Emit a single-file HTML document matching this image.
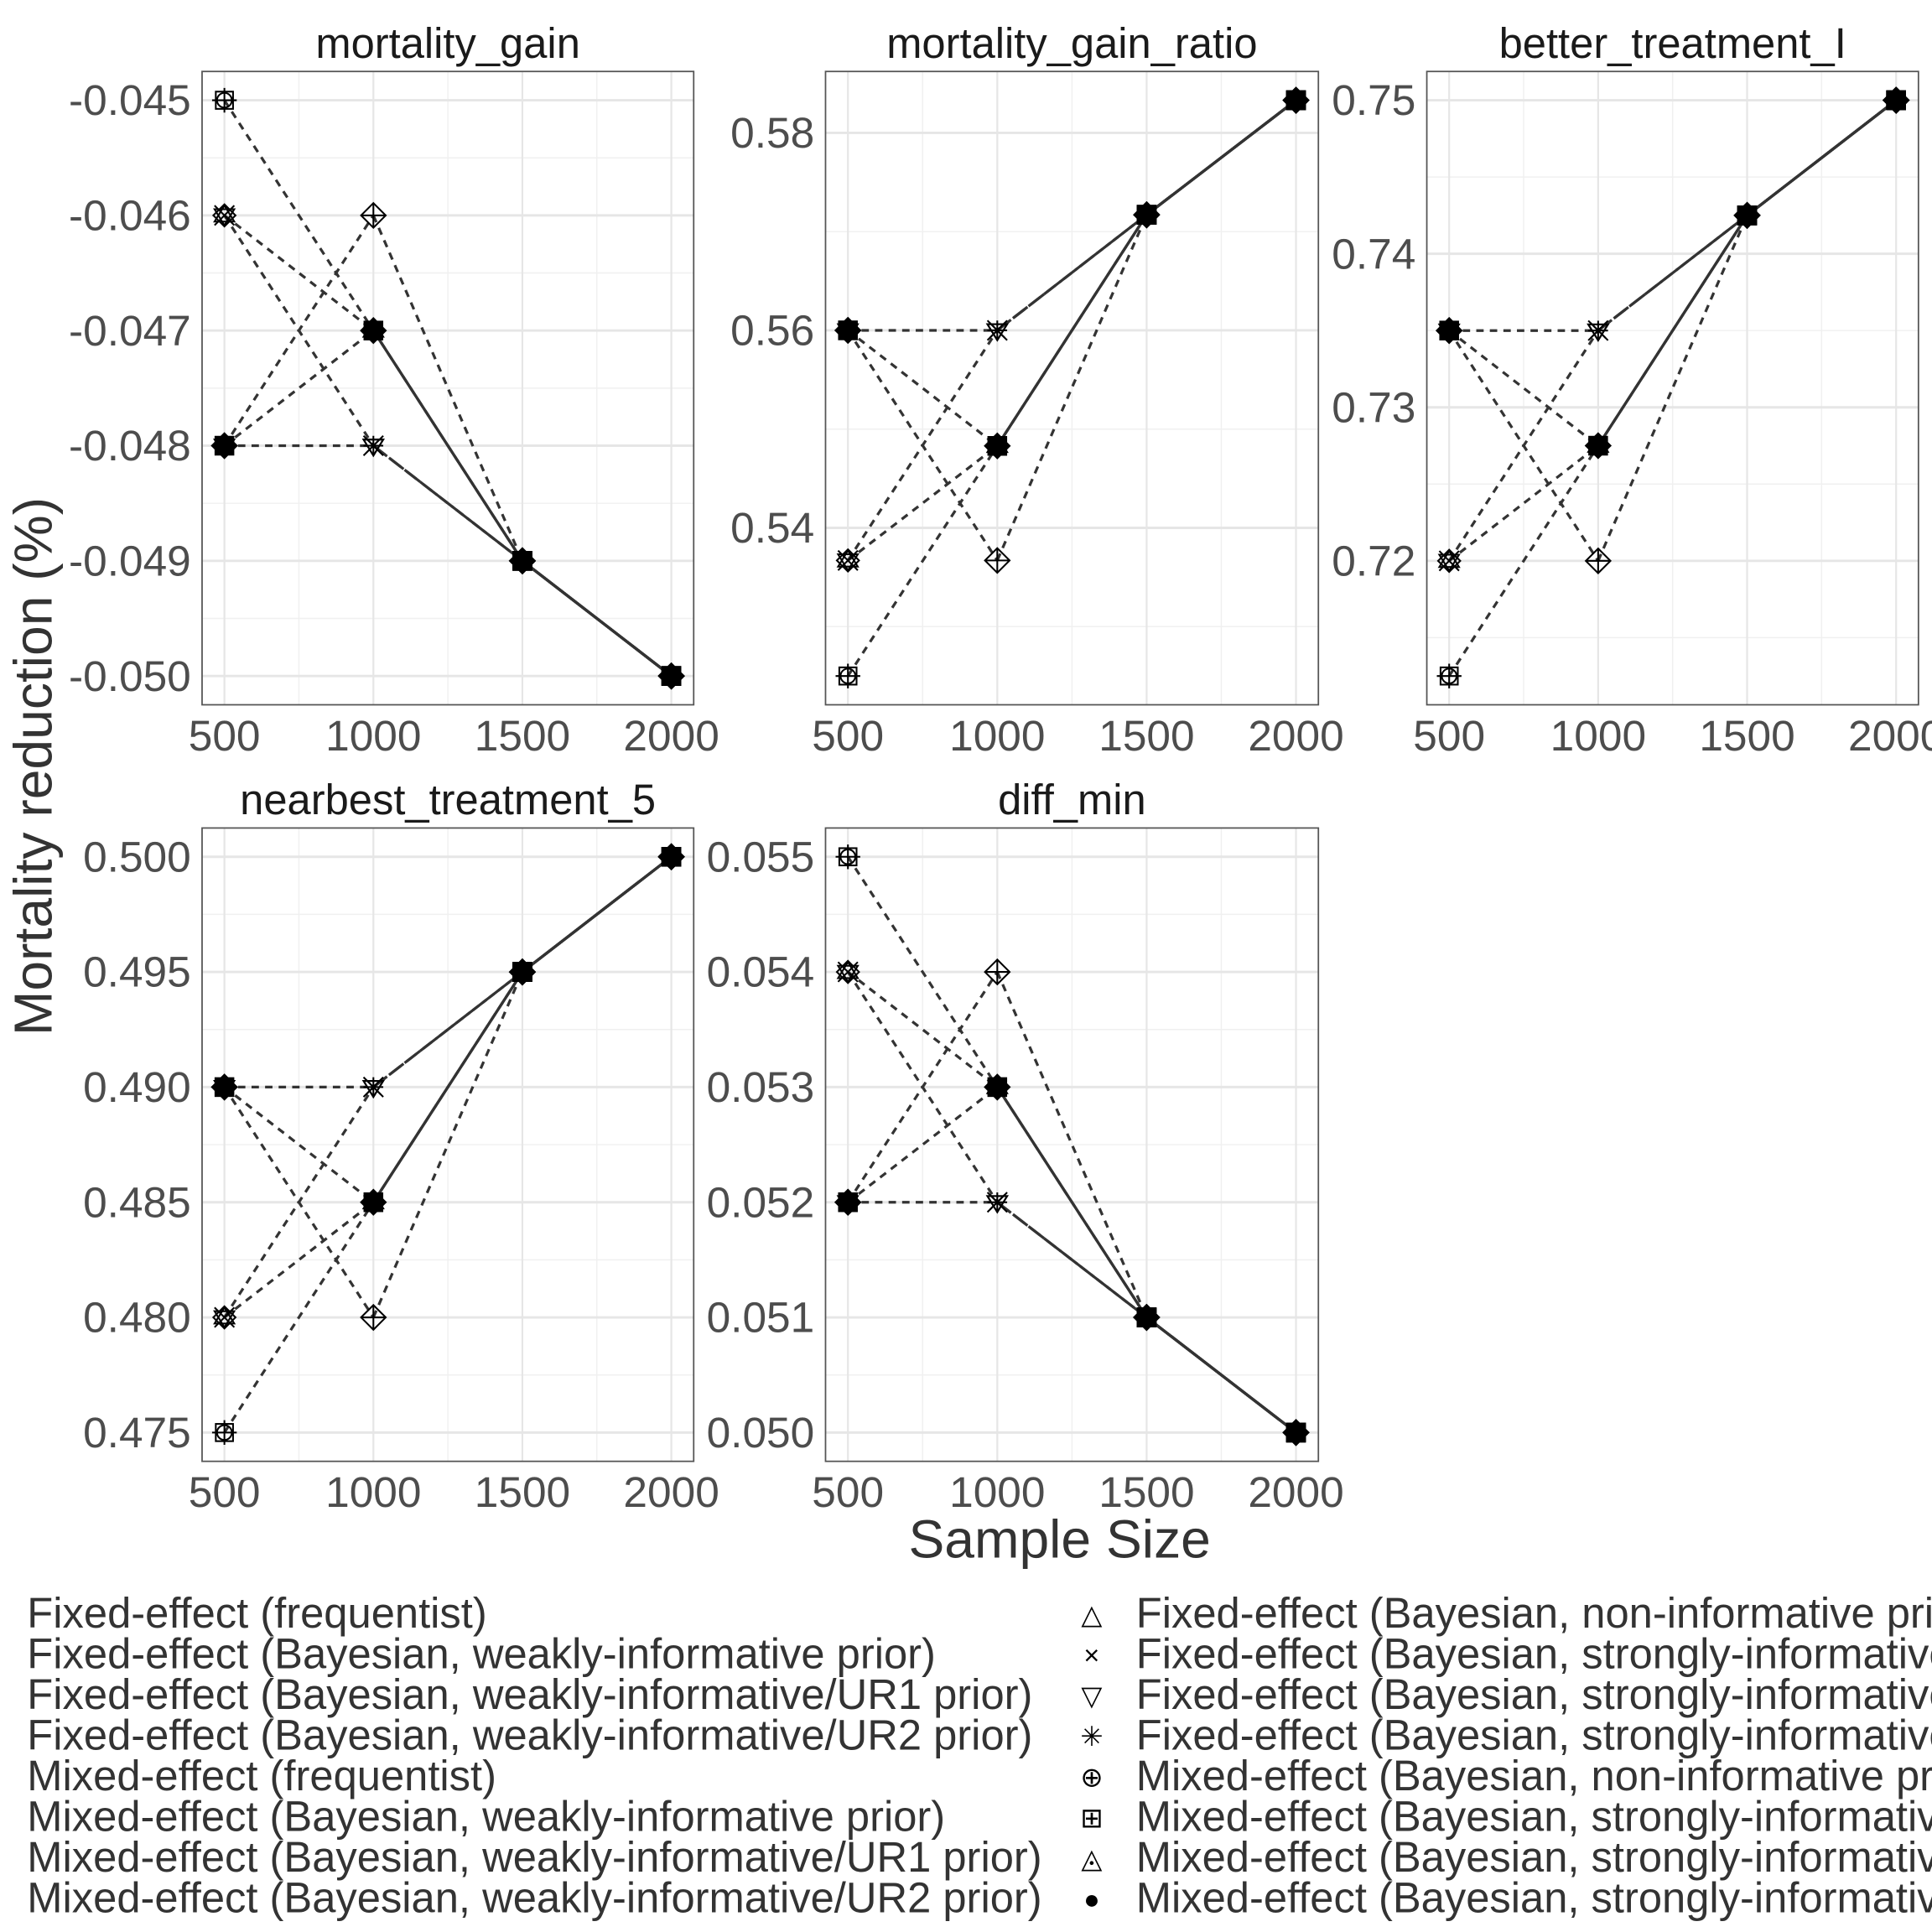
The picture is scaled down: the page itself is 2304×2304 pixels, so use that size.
<!DOCTYPE html>
<html><head><meta charset="utf-8"><style>
html,body{margin:0;padding:0;background:#fff}
svg{display:block}
text{font-family:"Liberation Sans",sans-serif}
</style></head><body>
<svg id="chart" width="2304" height="2304" viewBox="0 0 1568 1568" xmlns="http://www.w3.org/2000/svg">
<text x="0" y="0" transform="translate(42,622) rotate(-90)" font-size="43.7" fill="#333" text-anchor="middle">Mortality reduction (%)</text>
<text x="860" y="1264" font-size="43.7" fill="#333" text-anchor="middle">Sample Size</text>
<g id="legend"></g>
</svg>
<script>
const NS="http://www.w3.org/2000/svg";
const svg=document.getElementById('chart');
const xCats=[500,1000,1500,2000];
const xTicks=[500,1000,1500,2000];
const panelTitles=["mortality_gain","mortality_gain_ratio","better_treatment_I","nearbest_treatment_5","diff_min"];
const yTicks1=[-0.045,-0.046,-0.047,-0.048,-0.049,-0.050];
const yTicks2=[0.54,0.56,0.58];
const yTicks3=[0.72,0.73,0.74,0.75];
const yTicks4=[0.475,0.480,0.485,0.490,0.495,0.500];
const yTicks5=[0.050,0.051,0.052,0.053,0.054,0.055];
const yTickLabels1=["-0.045","-0.046","-0.047","-0.048","-0.049","-0.050"];
const yTickLabels2=["0.54","0.56","0.58"];
const yTickLabels3=["0.72","0.73","0.74","0.75"];
const yTickLabels4=["0.475","0.480","0.485","0.490","0.495","0.500"];
const yTickLabels5=["0.050","0.051","0.052","0.053","0.054","0.055"];
const p1=[[-0.045,-0.047,-0.049,-0.050],[-0.048,-0.046,-0.049,-0.050],[-0.046,-0.048,-0.049,-0.050],[-0.048,-0.047,-0.049,-0.050],[-0.046,-0.047,-0.049,-0.050],[-0.048,-0.048,-0.049,-0.050]];
const p2=[[0.525,0.5483,0.5717,0.5833],[0.56,0.5367,0.5717,0.5833],[0.5367,0.56,0.5717,0.5833],[0.56,0.5483,0.5717,0.5833],[0.5367,0.5483,0.5717,0.5833],[0.56,0.56,0.5717,0.5833]];
const p3=[[0.7125,0.7275,0.7425,0.75],[0.735,0.72,0.7425,0.75],[0.72,0.735,0.7425,0.75],[0.735,0.7275,0.7425,0.75],[0.72,0.7275,0.7425,0.75],[0.735,0.735,0.7425,0.75]];
const p4=[[0.475,0.485,0.495,0.500],[0.490,0.480,0.495,0.500],[0.480,0.490,0.495,0.500],[0.490,0.485,0.495,0.500],[0.480,0.485,0.495,0.500],[0.490,0.490,0.495,0.500]];
const p5=[[0.055,0.053,0.051,0.050],[0.052,0.054,0.051,0.050],[0.054,0.052,0.051,0.050],[0.052,0.053,0.051,0.050],[0.054,0.053,0.051,0.050],[0.052,0.052,0.051,0.050]];
const seriesMarkers=["squareplus","diamondplus","trix","filled","triup","tridown"];
const seriesDash=[["6,5","6,5","none"],["6,5","6,5","none"],["6,5","12,4","none"],["6,5","none","none"],["6,5","none","none"],["6,5","14,3","none"]];
const panels=[
 {x0:164,x1:563,y0:58,y1:572,data:p1,ticks:yTicks1,labels:yTickLabels1},
 {x0:670,x1:1070,y0:58,y1:572,data:p2,ticks:yTicks2,labels:yTickLabels2},
 {x0:1158,x1:1557,y0:58,y1:572,data:p3,ticks:yTicks3,labels:yTickLabels3},
 {x0:164,x1:563,y0:672,y1:1186,data:p4,ticks:yTicks4,labels:yTickLabels4},
 {x0:670,x1:1070,y0:672,y1:1186,data:p5,ticks:yTicks5,labels:yTickLabels5}];
function mk(tag,attrs,parent){const e=document.createElementNS(NS,tag);for(const k in attrs)e.setAttribute(k,attrs[k]);(parent||svg).appendChild(e);return e;}
function marker(g,type,cx,cy){
 const r=8,st={fill:'none',stroke:'#000','stroke-width':1.4};
 if(type==='filled'){mk('rect',{x:cx-r,y:cy-r,width:2*r,height:2*r,fill:'#000'},g);mk('polygon',{points:`${cx},${cy-r-3} ${cx+r+3},${cy} ${cx},${cy+r+3} ${cx-r-3},${cy}`,fill:'#000'},g);return;}
 if(type==='squareplus'){mk('rect',Object.assign({x:cx-r+1,y:cy-r+1,width:2*r-2,height:2*r-2},st),g);mk('path',Object.assign({d:`M${cx-r-2},${cy}H${cx+r+2}M${cx},${cy-r-2}V${cy+r+2}`},st),g);mk('circle',Object.assign({cx:cx,cy:cy,r:r-2},st),g);return;}
 if(type==='diamondplus'){mk('polygon',Object.assign({points:`${cx},${cy-r-2} ${cx+r+2},${cy} ${cx},${cy+r+2} ${cx-r-2},${cy}`},st),g);mk('path',Object.assign({d:`M${cx-r-2},${cy}H${cx+r+2}M${cx},${cy-r-2}V${cy+r+2}`},st),g);return;}
 if(type==='trix'){mk('path',Object.assign({d:`M${cx-r},${cy-r}L${cx+r},${cy+r}M${cx+r},${cy-r}L${cx-r},${cy+r}`},st),g);mk('polygon',Object.assign({points:`${cx-r},${cy-r+3} ${cx+r},${cy-r+3} ${cx},${cy+r}`},st),g);return;}
 if(type==='triup'){mk('polygon',Object.assign({points:`${cx-r},${cy+r-3} ${cx+r},${cy+r-3} ${cx},${cy-r}`},st),g);mk('polygon',Object.assign({points:`${cx},${cy-r-1} ${cx+r+1},${cy} ${cx},${cy+r+1} ${cx-r-1},${cy}`},st),g);return;}
 if(type==='tridown'){mk('polygon',Object.assign({points:`${cx-r},${cy-r+3} ${cx+r},${cy-r+3} ${cx},${cy+r}`},st),g);mk('path',Object.assign({d:`M${cx-r},${cy}H${cx+r}M${cx},${cy-r}V${cy+r}M${cx-6},${cy-6}L${cx+6},${cy+6}M${cx+6},${cy-6}L${cx-6},${cy+6}`},st),g);return;}
}
panels.forEach((p,pi)=>{
 const g=mk('g',{});
 
 
 let all=[];p.data.forEach(s=>all=all.concat(s));
 const mn=Math.min(...all),mx=Math.max(...all),pad=(mx-mn)*0.05;
 const ymin=mn-pad,ymax=mx+pad;
 const xs=v=>p.x0+(v-425)/(1650)*(p.x1-p.x0);
 const ys=v=>p.y1-(v-ymin)/(ymax-ymin)*(p.y1-p.y0);
 const tk=p.ticks.slice().sort((a,b)=>a-b);const step=tk[1]-tk[0];
 for(let v=tk[0]-step*1.5;v<=tk[tk.length-1]+step*1.5;v+=step){const yy=ys(v);if(yy>p.y0&&yy<p.y1){const l=mk('line',{x1:p.x0,x2:p.x1,y1:yy,y2:yy,stroke:'#f0f0f0','stroke-width':1},g);}}
 [750,1250,1750].forEach(v=>{const l=mk('line',{x1:xs(v),x2:xs(v),y1:p.y0,y2:p.y1,stroke:'#f0f0f0','stroke-width':1},g);});
 p.ticks.forEach((v,i)=>{const yy=ys(v);
  const l=mk('line',{x1:p.x0,x2:p.x1,y1:yy,y2:yy,stroke:'#e6e6e6','stroke-width':2},g);
  
  const t=mk('text',{x:p.x0-9,y:yy+12,'font-size':35,fill:'#4d4d4d','text-anchor':'end'},g);t.textContent=p.labels[i];
  });
 xTicks.forEach(v=>{const xx=xs(v);
  const l=mk('line',{x1:xx,x2:xx,y1:p.y0,y2:p.y1,stroke:'#e6e6e6','stroke-width':1.5},g);
  
  const t=mk('text',{x:xx,y:p.y1+37,'font-size':35,fill:'#4d4d4d','text-anchor':'middle'},g);t.textContent=v;
  });
 const b=mk('rect',{x:p.x0,y:p.y0,width:p.x1-p.x0,height:p.y1-p.y0,fill:'none',stroke:'#555','stroke-width':1.2},g);
 
 const tt=mk('text',{x:(p.x0+p.x1)/2,y:p.y0-11,'font-size':34.5,fill:'#1a1a1a','text-anchor':'middle'},g);tt.textContent=panelTitles[pi];
 
 p.data.forEach((s,si)=>{for(let k=0;k<3;k++){
  const l=mk('line',{x1:xs(xCats[k]),y1:ys(s[k]),x2:xs(xCats[k+1]),y2:ys(s[k+1]),stroke:'#333','stroke-width':2.2,'stroke-dasharray':seriesDash[si][k]},g);
  }});
 p.data.forEach((s,si)=>{s.forEach((v,k)=>{
  const mg=mk('g',{},g);
  const type=(k>=2)?'filled':seriesMarkers[si];marker(mg,type,xs(xCats[k]),ys(v));});});
});
const legendLeft=["Fixed-effect (frequentist)","Fixed-effect (Bayesian, weakly-informative prior)","Fixed-effect (Bayesian, weakly-informative/UR1 prior)","Fixed-effect (Bayesian, weakly-informative/UR2 prior)","Mixed-effect (frequentist)","Mixed-effect (Bayesian, weakly-informative prior)","Mixed-effect (Bayesian, weakly-informative/UR1 prior)","Mixed-effect (Bayesian, weakly-informative/UR2 prior)"];
const legendRight=["Fixed-effect (Bayesian, non-informative prior)","Fixed-effect (Bayesian, strongly-informative prior)","Fixed-effect (Bayesian, strongly-informative/UR1 prior)","Fixed-effect (Bayesian, strongly-informative/UR2 prior)","Mixed-effect (Bayesian, non-informative prior)","Mixed-effect (Bayesian, strongly-informative prior)","Mixed-effect (Bayesian, strongly-informative/UR1 prior)","Mixed-effect (Bayesian, strongly-informative/UR2 prior)"];
const lg=document.getElementById('legend');
const glyphs=["△","×","▽","✳","⊕","⊞","◬","●"];
legendRight.forEach((s,i)=>{});
legendLeft.forEach((s,i)=>{const y=1321+i*33;
 const t=mk('text',{x:22,y:y,'font-size':34.5,fill:'#333'},lg);t.textContent=s;
 });
legendRight.forEach((s,i)=>{const y=1321+i*33;
 const m=mk('text',{x:886,y:y-3,'font-size':22,fill:'#000','text-anchor':'middle'},lg);m.textContent=glyphs[i];
 
 const t=mk('text',{x:922,y:y,'font-size':34.5,fill:'#333'},lg);t.textContent=s;
 });
</script>
</body></html>
